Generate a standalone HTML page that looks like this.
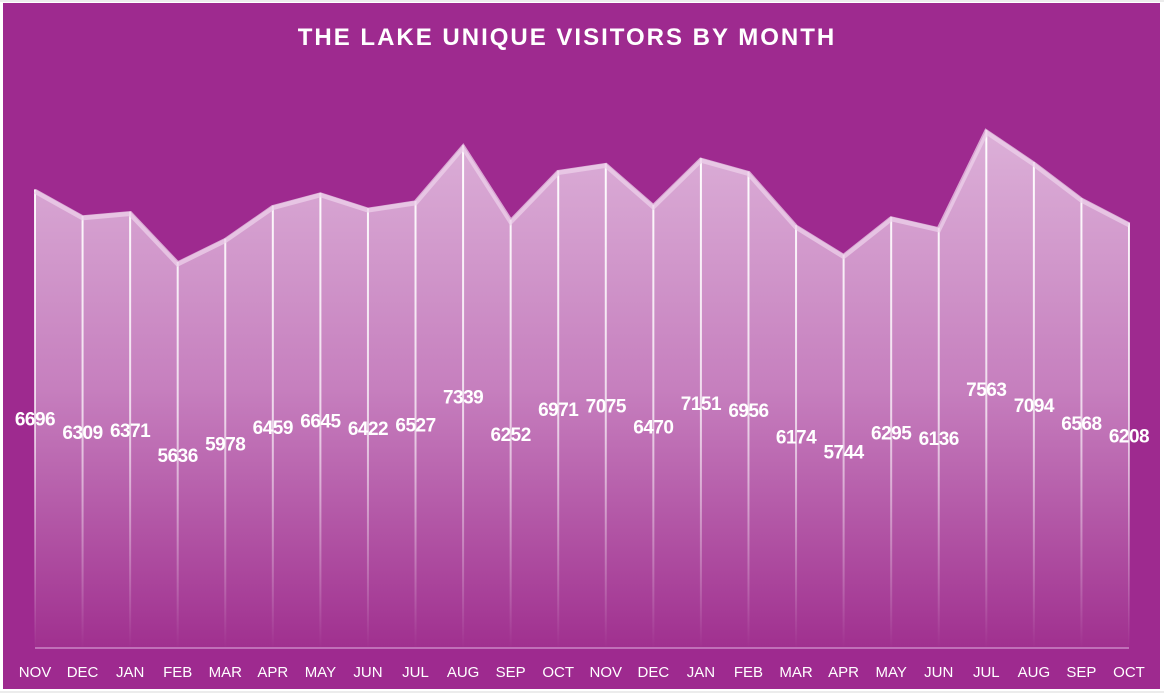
<!DOCTYPE html>
<html><head><meta charset="utf-8"><style>
html,body{margin:0;padding:0;background:#fff;width:1164px;height:694px;overflow:hidden}
svg{display:block}
text{font-family:"Liberation Sans",sans-serif;fill:#fff}
</style></head><body>
<svg width="1164" height="694" viewBox="0 0 1164 694">
<defs>
<linearGradient id="fill" gradientUnits="userSpaceOnUse" x1="0" y1="130" x2="0" y2="648">
<stop offset="0" stop-color="#dcb0d8"/>
<stop offset="0.5" stop-color="#c67fbe"/>
<stop offset="1" stop-color="#a0308f"/>
</linearGradient>
<linearGradient id="vl" gradientUnits="userSpaceOnUse" x1="0" y1="130" x2="0" y2="648">
<stop offset="0" stop-color="#fff" stop-opacity="1"/>
<stop offset="0.55" stop-color="#fff" stop-opacity="0.7"/>
<stop offset="1" stop-color="#fff" stop-opacity="0"/>
</linearGradient>
</defs>
<g stroke="#d9d9d9" stroke-width="1">
<line x1="0" y1="1" x2="1164" y2="1"/><line x1="0" y1="692" x2="1164" y2="692"/>
</g>
<rect x="3" y="3" width="1157" height="686" fill="#9e2a8f"/>
<g id="chart"></g>
<text x="567" y="45" text-anchor="middle" font-size="24" font-weight="bold" letter-spacing="2">THE LAKE UNIQUE VISITORS BY MONTH</text>
</svg>
<script>
var v=[6696,6309,6371,5636,5978,6459,6645,6422,6527,7339,6252,6971,7075,6470,7151,6956,6174,5744,6295,6136,7563,7094,6568,6208];
var m=["NOV","DEC","JAN","FEB","MAR","APR","MAY","JUN","JUL","AUG","SEP","OCT","NOV","DEC","JAN","FEB","MAR","APR","MAY","JUN","JUL","AUG","SEP","OCT"];
var base=648,s="",pts=[];
function X(i){return 35+i*(1129-35)/23}
function Y(val){return base-val*0.0685}
for(var i=0;i<v.length;i++)pts.push(X(i).toFixed(1)+","+Y(v[i]).toFixed(1));
s+='<polygon points="35,'+base+' '+pts.join(" ")+' 1129,'+base+'" fill="url(#fill)"/>';
s+='<line x1="35" y1="'+base+'" x2="1129" y2="'+base+'" stroke="#c070b8" stroke-width="2"/>';
for(var i=0;i<v.length;i++){s+='<line x1="'+X(i)+'" y1="'+Y(v[i])+'" x2="'+X(i)+'" y2="'+base+'" stroke="url(#vl)" stroke-width="2"/>';}
s+='<polyline points="'+pts.join(" ")+'" fill="none" stroke="#ecd0ea" stroke-opacity="0.75" stroke-width="5" transform="translate(0,2)"/>';
for(var i=0;i<v.length;i++){var y=(Y(v[i])+base)/2;
s+='<text x="'+X(i)+'" y="'+(y+7)+'" text-anchor="middle" font-size="19" font-weight="bold" letter-spacing="-0.5">'+v[i]+'</text>';
s+='<text x="'+X(i)+'" y="677" text-anchor="middle" font-size="15">'+m[i]+'</text>';}
document.getElementById("chart").innerHTML=s;
</script>
</body></html>
